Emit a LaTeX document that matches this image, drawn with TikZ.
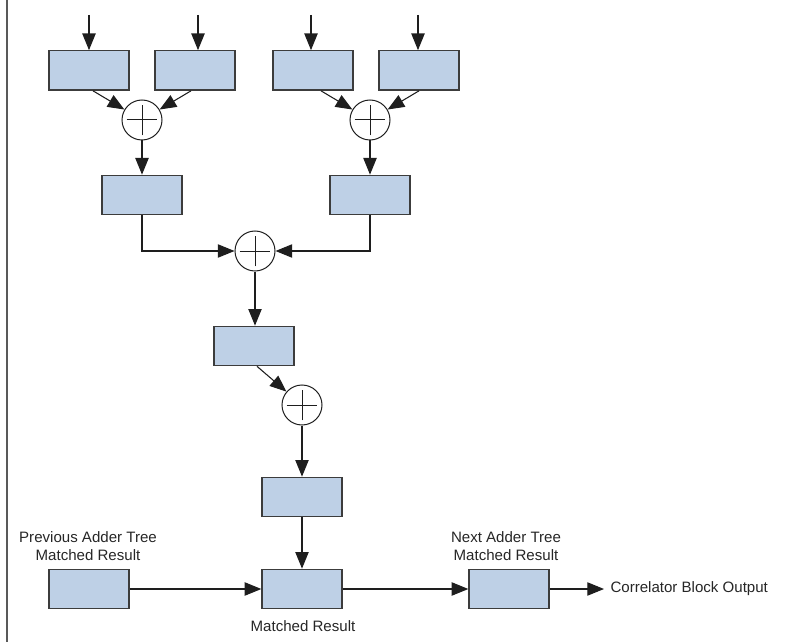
\documentclass[tikz,border=0pt]{standalone}
\usepackage{fontspec}
\setmainfont{Liberation Sans}
\usetikzlibrary{arrows.meta}

\definecolor{regfill}{RGB}{190,208,230}
\definecolor{regline}{RGB}{60,60,60}
\definecolor{wire}{RGB}{30,30,30}

\tikzset{every picture/.style={line width=0.75pt}}
\tikzset{
  reg/.style={draw=regline,fill=regfill,line width=1pt,minimum width=60pt,minimum height=29.5pt,inner sep=0pt},
  adder/.style={draw=wire,circle,minimum size=30pt,inner sep=0pt,
    path picture={
      \draw[wire] ([xshift=-11.6pt]path picture bounding box.center) -- ([xshift=11.6pt]path picture bounding box.center);
      \draw[wire] ([yshift=-11.6pt]path picture bounding box.center) -- ([yshift=11.6pt]path picture bounding box.center);
    }},
  sig/.style={draw=wire,line width=0.8pt,-{Triangle[length=12.5pt,width=10pt]}},
  lbl/.style={font=\fontsize{11.3}{13.5}\selectfont,text=black!85,align=center,inner sep=0pt}
}

\begin{document}
\begin{tikzpicture}[x=0.75pt,y=0.75pt,yscale=-1,xscale=1]
	\useasboundingbox (0,0) rectangle (801,642);

	%Left rule
	\draw [draw=black!65,line width=1.5pt] (7,0) -- (7,642) ;

	%Input registers
	\node [reg] (r1) at (89,70.5) {};
	\node [reg] (r2) at (195,70.5) {};
	\node [reg] (r3) at (313,70.5) {};
	\node [reg] (r4) at (419,70.5) {};
	\coordinate (in1) at (89,15);
	\coordinate (in2) at (198,15);
	\coordinate (in3) at (311,15);
	\coordinate (in4) at (418,15);
	\foreach \i in {1,...,4}
	  \draw [sig] (in\i) -- (in\i |- r\i.north) ;

	%First adder stage
	\node [adder] (s1) at (142,120) {};
	\node [adder] (s2) at (370,120) {};
	\draw [sig] ([xshift=-36.75pt]s1.center |- r1.south) -- (s1) ;
	\draw [sig] ([xshift=36.75pt]s1.center |- r2.south) -- (s1) ;
	\draw [sig] ([xshift=-36.75pt]s2.center |- r3.south) -- (s2) ;
	\draw [sig] ([xshift=36.75pt]s2.center |- r4.south) -- (s2) ;

	\node [reg] (r5) at (142,195) {};
	\node [reg] (r6) at (370,195) {};
	\draw [sig] (s1) -- (r5) ;
	\draw [sig] (s2) -- (r6) ;

	%Second adder stage
	\node [adder] (s3) at (255,251) {};
	\draw [sig] (r5.south) |- (s3) ;
	\draw [sig] (r6.south) |- (s3) ;
	\node [reg] (r7) at (254,346) {};
	\draw [sig] (s3) -- (s3 |- r7.north) ;

	%Third adder stage
	\node [adder] (s4) at (302,405) {};
	\draw [sig] ([xshift=2.25pt]r7.south) -- (s4) ;
	\node [reg] (r8) at (302,497) {};
	\draw [sig] (s4) -- (r8) ;

	%Matched result chain
	\node [reg] (prev) at (89,589) {};
	\node [reg] (match) at (302,589) {};
	\node [reg] (next) at (509,589) {};
	\coordinate (out) at (604,589);
	\draw [sig] (r8) -- (match) ;
	\draw [sig] (prev) -- (match) ;
	\draw [sig] (match) -- (next) ;
	\draw [sig] (next) -- (out) ;

	% Text Node
	\node [lbl] (tprev) at (88,546) {Previous Adder Tree\\Matched Result};
	% Text Node
	\node [lbl] (tnext) at (506,546) {Next Adder Tree\\Matched Result};
	% Text Node
	\node [lbl] (tmatch) at (303,626) {Matched Result};
	% Text Node
	\node [lbl,anchor=west] (tout) at (610,589) {Correlator Block Output};

\end{tikzpicture}
\end{document}
